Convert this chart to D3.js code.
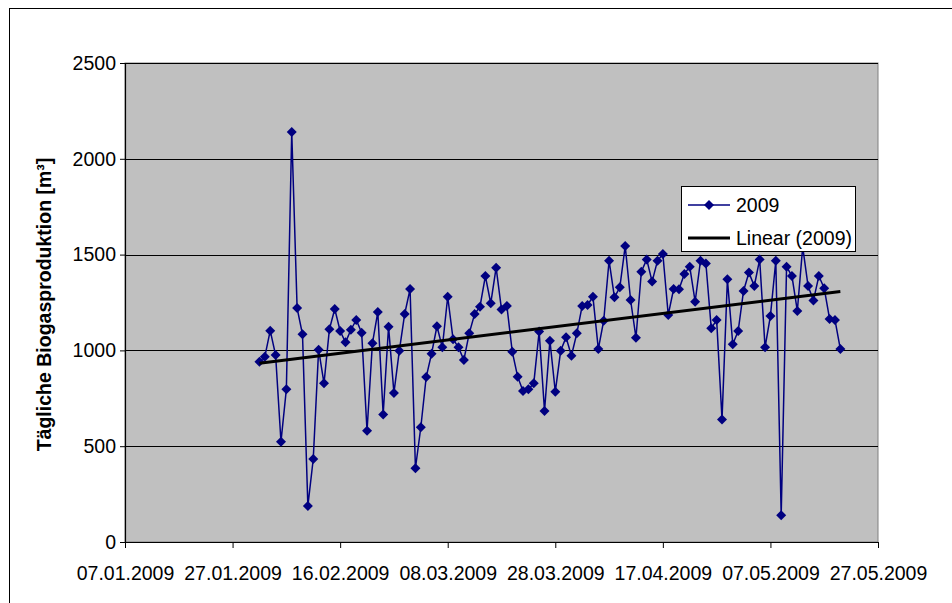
<!DOCTYPE html>
<html><head><meta charset="utf-8">
<script src="https://cdn.jsdelivr.net/npm/d3@7"></script>
<style>body{margin:0;background:#fff;}svg{display:block;font-family:Arial,"Liberation Sans",sans-serif;}</style>
</head><body>
<svg id="chart" width="952" height="603"></svg>
<script>
// ---- data ----
const seriesName = "2009";
const trendName = "Linear (2009)";
const firstDay = "2009-02-01"; // daily readings start here
const values2009 = [941,967,1103,976,523,797,2140,1221,1084,188,433,1004,828,1110,1216,1101,1042,1108,1159,1092,
  581,1037,1200,666,1124,778,998,1190,1320,385,599,861,983,1126,1016,1280,1058,1016,950,1089,
  1190,1228,1388,1246,1432,1214,1232,993,863,788,797,828,1098,684,1051,784,998,1068,972,1089,
  1232,1237,1280,1007,1155,1468,1277,1329,1545,1263,1066,1411,1475,1359,1468,1503,1185,1320,1319,1399,
  1437,1254,1468,1454,1115,1159,640,1371,1032,1101,1310,1406,1336,1475,1016,1180,1468,139,1437,1388,
  1206,1540,1336,1261,1388,1324,1164,1159,1007];
const yTicks = [0,500,1000,1500,2000,2500];
const xTickLabels = ["07.01.2009","27.01.2009","16.02.2009","08.03.2009","28.03.2009","17.04.2009","07.05.2009","27.05.2009"];
const yTitle = "Tägliche Biogasproduktion [m³]";

// ---- build ----
const FS = 19.5;
const parse = d3.utcParse("%d.%m.%Y");
const xTickDates = xTickLabels.map(parse);
const start = d3.utcParse("%Y-%m-%d")(firstDay);
const data = values2009.map((v,i)=>({date:d3.utcDay.offset(start,i), value:v}));

const svg = d3.select("#chart");
const L=125, R=878, T=63, B=542;
const x = d3.scaleUtc().domain([xTickDates[0], xTickDates[xTickDates.length-1]]).range([L,R]);
const y = d3.scaleLinear().domain([0,2500]).range([B,T]);

// outer frame
svg.append("rect").attr("x",9.5).attr("y",8.5).attr("width",960).attr("height",620)
  .attr("fill","#fff").attr("stroke","#000").attr("stroke-width",1);

// plot area
svg.append("rect").attr("x",L).attr("y",T).attr("width",R-L).attr("height",B-T)
  .attr("fill","#C0C0C0").attr("stroke","#808080").attr("stroke-width",1);

// gridlines
svg.append("g").selectAll("line").data(yTicks.filter(d=>d>0)).join("line")
  .attr("x1",L).attr("x2",R).attr("y1",d=>Math.round(y(d))+0.5).attr("y2",d=>Math.round(y(d))+0.5)
  .attr("stroke","#000").attr("stroke-width",1);

// axes
const yAxis = d3.axisLeft(y).tickValues(yTicks).tickSize(5).tickPadding(4).tickFormat(d3.format("d"));
const gy = svg.append("g").attr("transform",`translate(${L},0)`).call(yAxis);
const xAxis = d3.axisBottom(x).tickValues(xTickDates).tickSize(6).tickPadding(18).tickFormat(d3.utcFormat("%d.%m.%Y"));
const gx = svg.append("g").attr("transform",`translate(0,${B})`).call(xAxis);
[gx,gy].forEach(g=>{
  g.select(".domain").attr("stroke","#000").attr("stroke-width",1.2);
  g.selectAll(".tick line").attr("stroke","#000");
  g.selectAll("text").attr("fill","#000").attr("font-size",FS).attr("font-family","Arial, 'Liberation Sans', sans-serif");
});
gx.select(".domain").attr("d",`M${L},0.5H${R}`);
gy.select(".domain").attr("d",`M0.5,${B}V${T}`);

// y title
svg.append("text").attr("transform",`translate(51,${(T+B)/2+2}) rotate(-90)`)
  .attr("text-anchor","middle").attr("font-size",19.5).attr("font-weight","bold").text(yTitle);

// series line
const line = d3.line().x(d=>x(d.date)).y(d=>y(d.value));
svg.append("path").datum(data).attr("d",line).attr("fill","none").attr("stroke","#000080").attr("stroke-width",1.5);

// square diamond markers
const diamondPath = "M0,-5L5,0L0,5L-5,0Z";
svg.append("g").selectAll("path").data(data).join("path")
  .attr("transform",d=>`translate(${x(d.date)},${y(d.value)})`)
  .attr("d",diamondPath).attr("fill","#000080");

// linear trend (least squares over the series)
const xs = data.map((d,i)=>i), ys = data.map(d=>d.value);
const n=xs.length, mx=d3.mean(xs), my=d3.mean(ys);
const slope = d3.sum(xs.map((xi,i)=>(xi-mx)*(ys[i]-my)))/d3.sum(xs.map(xi=>(xi-mx)*(xi-mx)));
const icpt = my - slope*mx;
const trend = [{date:data[0].date,value:icpt},{date:data[n-1].date,value:icpt+slope*(n-1)}];
svg.append("path").datum(trend).attr("d",line).attr("fill","none").attr("stroke","#000").attr("stroke-width",3);

// legend
const lg = svg.append("g");
lg.append("rect").attr("x",681.5).attr("y",186.5).attr("width",174).attr("height",65)
  .attr("fill","#fff").attr("stroke","#000").attr("stroke-width",1);
lg.append("line").attr("x1",688).attr("x2",730).attr("y1",205).attr("y2",205).attr("stroke","#000080").attr("stroke-width",1.5);
lg.append("path").attr("transform","translate(709,205)").attr("d",diamondPath).attr("fill","#000080");
lg.append("text").attr("x",736).attr("y",212).attr("font-size",FS).text(seriesName);
lg.append("line").attr("x1",688).attr("x2",730).attr("y1",238).attr("y2",238).attr("stroke","#000").attr("stroke-width",3);
lg.append("text").attr("x",736).attr("y",245).attr("font-size",FS).text(trendName);
</script>
</body></html>
